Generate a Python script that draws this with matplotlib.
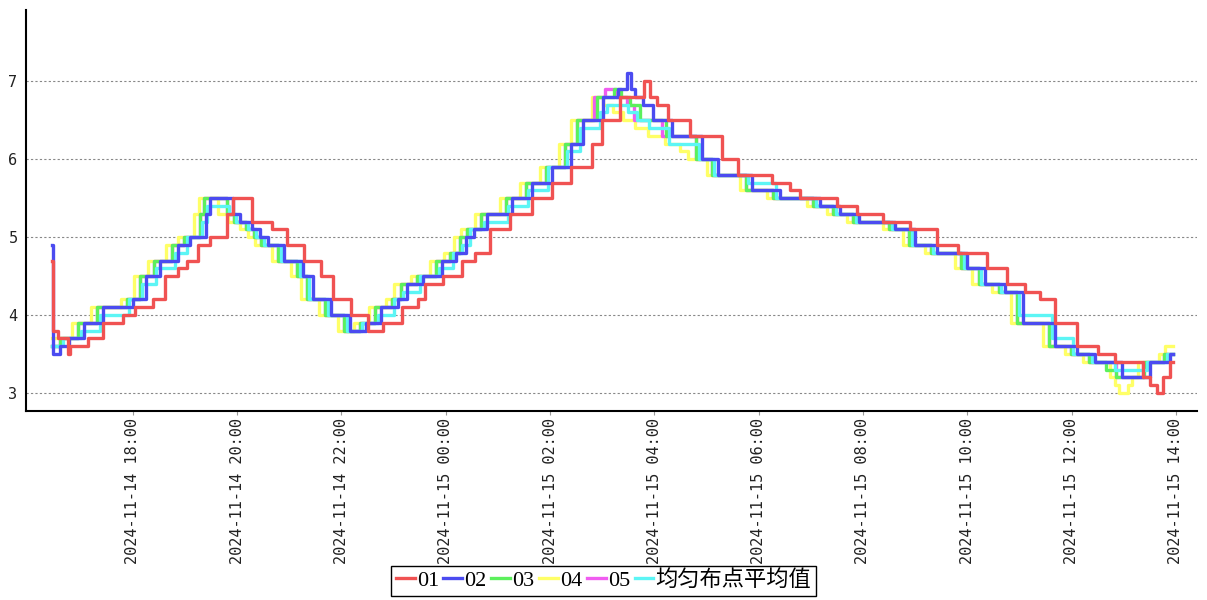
import pandas as pd
import matplotlib.pyplot as plt
import matplotlib.dates as mdates

# 时间为距 2024-11-14 16:00 的分钟数，值为该时刻起的读数（阶梯）
base = pd.Timestamp('2024-11-14 16:00')

t01 = [27, 28, 34, 45, 48, 68, 86, 109, 122, 143, 157, 172, 182, 195, 209, 228, 235, 257, 280, 297,
       317, 337, 350, 371, 390, 408, 430, 448, 456, 477, 499, 514, 531, 554, 579, 602, 624, 648, 660, 681,
       708, 715, 723, 736, 761, 798, 816, 855, 876, 887, 930, 953, 983, 1014, 1045, 1069, 1103, 1126, 1146, 1164,
       1181, 1206, 1230, 1250, 1282, 1290, 1298, 1305, 1313, 1317]
v01 = [4.7, 3.8, 3.7, 3.5, 3.6, 3.7, 3.9, 4.0, 4.1, 4.2, 4.5, 4.6, 4.7, 4.9, 5.0, 5.3, 5.5, 5.2, 5.1, 4.9,
       4.7, 4.5, 4.2, 4.0, 3.8, 3.9, 4.1, 4.2, 4.4, 4.5, 4.7, 4.8, 5.1, 5.3, 5.5, 5.7, 5.9, 6.2, 6.5, 6.8,
       7.0, 6.8, 6.7, 6.5, 6.3, 6.0, 5.8, 5.7, 5.6, 5.5, 5.4, 5.3, 5.2, 5.1, 4.9, 4.8, 4.6, 4.4, 4.3, 4.2,
       3.9, 3.6, 3.5, 3.4, 3.2, 3.1, 3.0, 3.2, 3.4, 3.4]

t02 = [27, 28, 36, 46, 64, 86, 120, 135, 151, 172, 186, 204, 209, 235, 243, 257, 266, 275, 294, 316,
       327, 348, 370, 388, 406, 425, 435, 454, 476, 492, 503, 512, 528, 556, 579, 602, 624, 638, 661, 678,
       688, 693, 698, 707, 718, 740, 775, 793, 832, 864, 910, 933, 956, 997, 1020, 1045, 1080, 1100, 1123, 1144,
       1181, 1206, 1227, 1258, 1290, 1313, 1317]
v02 = [4.9, 3.5, 3.6, 3.7, 3.9, 4.1, 4.2, 4.5, 4.7, 4.9, 5.0, 5.3, 5.5, 5.3, 5.2, 5.1, 5.0, 4.9, 4.7, 4.5,
       4.2, 4.0, 3.8, 3.9, 4.1, 4.2, 4.4, 4.5, 4.7, 4.8, 5.0, 5.1, 5.3, 5.5, 5.7, 5.9, 6.2, 6.5, 6.8, 6.9,
       7.1, 6.9, 6.8, 6.7, 6.5, 6.3, 6.0, 5.8, 5.6, 5.5, 5.4, 5.3, 5.2, 5.1, 4.9, 4.8, 4.6, 4.4, 4.3, 3.9,
       3.6, 3.5, 3.4, 3.2, 3.4, 3.5, 3.5]

t03 = [27, 36, 57, 79, 113, 128, 144, 165, 179, 197, 202, 228, 236, 250, 259, 268, 287, 309, 320, 341,
       363, 381, 399, 418, 428, 447, 469, 485, 496, 505, 521, 549, 572, 595, 617, 631, 654, 674, 682, 692,
       704, 733, 768, 786, 825, 857, 903, 926, 949, 990, 1013, 1038, 1073, 1093, 1116, 1137, 1174, 1199, 1220, 1240,
       1251, 1283, 1306, 1317]
v03 = [3.6, 3.7, 3.9, 4.1, 4.2, 4.5, 4.7, 4.9, 5.0, 5.3, 5.5, 5.3, 5.2, 5.1, 5.0, 4.9, 4.7, 4.5, 4.2, 4.0,
       3.8, 3.9, 4.1, 4.2, 4.4, 4.5, 4.7, 4.8, 5.0, 5.1, 5.3, 5.5, 5.7, 5.9, 6.2, 6.5, 6.8, 6.9, 6.8, 6.7,
       6.5, 6.3, 6.0, 5.8, 5.6, 5.5, 5.4, 5.3, 5.2, 5.1, 4.9, 4.8, 4.6, 4.4, 4.3, 3.9, 3.6, 3.5, 3.4, 3.3,
       3.2, 3.4, 3.5, 3.5]

t04 = [27, 50, 72, 106, 121, 137, 158, 172, 190, 196, 218, 229, 243, 252, 261, 280, 302, 313, 334, 356,
       374, 392, 411, 421, 440, 462, 478, 489, 498, 514, 542, 565, 588, 610, 624, 648, 661, 672, 684, 698,
       713, 732, 749, 759, 780, 818, 850, 896, 919, 942, 983, 1006, 1031, 1066, 1086, 1109, 1130, 1167, 1192, 1213,
       1244, 1250, 1255, 1265, 1270, 1276, 1301, 1307, 1317]
v04 = [3.7, 3.9, 4.1, 4.2, 4.5, 4.7, 4.9, 5.0, 5.3, 5.5, 5.3, 5.2, 5.1, 5.0, 4.9, 4.7, 4.5, 4.2, 4.0, 3.8,
       3.9, 4.1, 4.2, 4.4, 4.5, 4.7, 4.8, 5.0, 5.1, 5.3, 5.5, 5.7, 5.9, 6.2, 6.5, 6.8, 6.7, 6.6, 6.5, 6.4,
       6.3, 6.2, 6.1, 6.0, 5.8, 5.6, 5.5, 5.4, 5.3, 5.2, 5.1, 4.9, 4.8, 4.6, 4.4, 4.3, 3.9, 3.6, 3.5, 3.4,
       3.2, 3.1, 3.0, 3.1, 3.2, 3.4, 3.5, 3.6, 3.6]

t05 = [27, 36, 57, 79, 113, 128, 144, 165, 179, 197, 202, 228, 236, 250, 259, 268, 287, 309, 320, 341,
       363, 381, 399, 418, 428, 447, 469, 485, 496, 505, 521, 549, 572, 595, 617, 631, 650, 663, 676, 688,
       697, 729, 768, 786, 825, 857, 903, 926, 949, 990, 1013, 1038, 1073, 1093, 1116, 1137, 1174, 1199, 1220, 1251,
       1282, 1306, 1317]
v05 = [3.6, 3.7, 3.9, 4.1, 4.2, 4.5, 4.7, 4.9, 5.0, 5.3, 5.5, 5.3, 5.2, 5.1, 5.0, 4.9, 4.7, 4.5, 4.2, 4.0,
       3.8, 3.9, 4.1, 4.2, 4.4, 4.5, 4.7, 4.8, 5.0, 5.1, 5.3, 5.5, 5.7, 5.9, 6.2, 6.5, 6.8, 6.9, 6.8, 6.7,
       6.5, 6.3, 6.0, 5.8, 5.6, 5.5, 5.4, 5.3, 5.2, 5.1, 4.9, 4.8, 4.6, 4.4, 4.3, 3.9, 3.6, 3.5, 3.4, 3.2,
       3.4, 3.5, 3.5]

t06 = [27, 40, 60, 82, 116, 131, 147, 168, 182, 200, 205, 231, 239, 253, 262, 271, 290, 312, 323, 344,
       366, 384, 402, 421, 431, 450, 472, 488, 499, 508, 524, 552, 575, 598, 620, 634, 657, 666, 690, 700,
       714, 737, 771, 789, 828, 860, 906, 929, 952, 993, 1016, 1041, 1076, 1096, 1119, 1140, 1177, 1202, 1223, 1250,
       1287, 1310, 1317]
v06 = [3.6, 3.7, 3.8, 4.0, 4.2, 4.4, 4.6, 4.8, 5.0, 5.2, 5.4, 5.3, 5.2, 5.1, 5.0, 4.9, 4.7, 4.5, 4.2, 4.0,
       3.8, 3.9, 4.0, 4.2, 4.3, 4.5, 4.6, 4.8, 4.9, 5.1, 5.2, 5.4, 5.6, 5.9, 6.1, 6.4, 6.6, 6.7, 6.6, 6.5,
       6.4, 6.2, 6.0, 5.8, 5.7, 5.5, 5.4, 5.3, 5.2, 5.1, 4.9, 4.8, 4.6, 4.4, 4.3, 4.0, 3.7, 3.5, 3.4, 3.3,
       3.4, 3.5, 3.5]

names = ['01', '02', '03', '04', '05', '均匀布点平均值']
colors = ['#f05252', '#4b4bf0', '#5cf05c', '#ffff66', '#f05cf0', '#5cf5f5']
series = [(t01, v01), (t02, v02), (t03, v03), (t04, v04), (t05, v05), (t06, v06)]
zorders = [8, 7, 5, 3, 4, 6]

fig = plt.figure(figsize=(12.07, 6.0), dpi=100)
ax = fig.add_axes([0.0215, 0.315, 0.970, 0.668])

handles = []
for (t, v), name, c, z in zip(series, names, colors, zorders):
    x = base + pd.to_timedelta(t, unit='min')
    h, = ax.step(x, v, where='post', color=c, lw=2.4, zorder=z, label=name)
    handles.append(h)

ax.set_xlim(pd.Timestamp('2024-11-14 15:57'), pd.Timestamp('2024-11-15 14:24'))
ax.set_ylim(2.77, 7.91)
ax.set_yticks([3, 4, 5, 6, 7])

# 刻度：18:00 起每 2 小时
ax.set_xticks(pd.date_range('2024-11-14 18:00', '2024-11-15 14:00', freq='2h'))
ax.xaxis.set_major_formatter(mdates.DateFormatter('%Y-%m-%d %H:%M'))
plt.setp(ax.get_xticklabels(), rotation=90, family='DejaVu Sans Mono', fontsize=11, color='#222222')
plt.setp(ax.get_yticklabels(), family='DejaVu Sans Mono', fontsize=11, color='#222222')
ax.tick_params(axis='x', length=3, color='#999999', pad=2)
ax.tick_params(axis='y', length=0, pad=6)

ax.grid(axis='y', color='#888888', linestyle=(0, (2, 2)), lw=0.8)
ax.set_axisbelow(True)
for s in ['top', 'right']:
    ax.spines[s].set_visible(False)
for s in ['left', 'bottom']:
    ax.spines[s].set_linewidth(1.5)
    ax.spines[s].set_color('black')

leg = fig.legend(handles, names, loc='lower center', bbox_to_anchor=(0.5, 0.0), ncol=6,
                 fancybox=False, edgecolor='black', framealpha=1,
                 handlelength=0.85, handletextpad=0.1, columnspacing=0.2, borderpad=0.2,
                 borderaxespad=0.2,
                 prop={'family': ['Liberation Serif', 'Noto Sans CJK SC'], 'size': 16})
leg.get_frame().set_linewidth(1.0)

fig.savefig('out.png', dpi=100)
